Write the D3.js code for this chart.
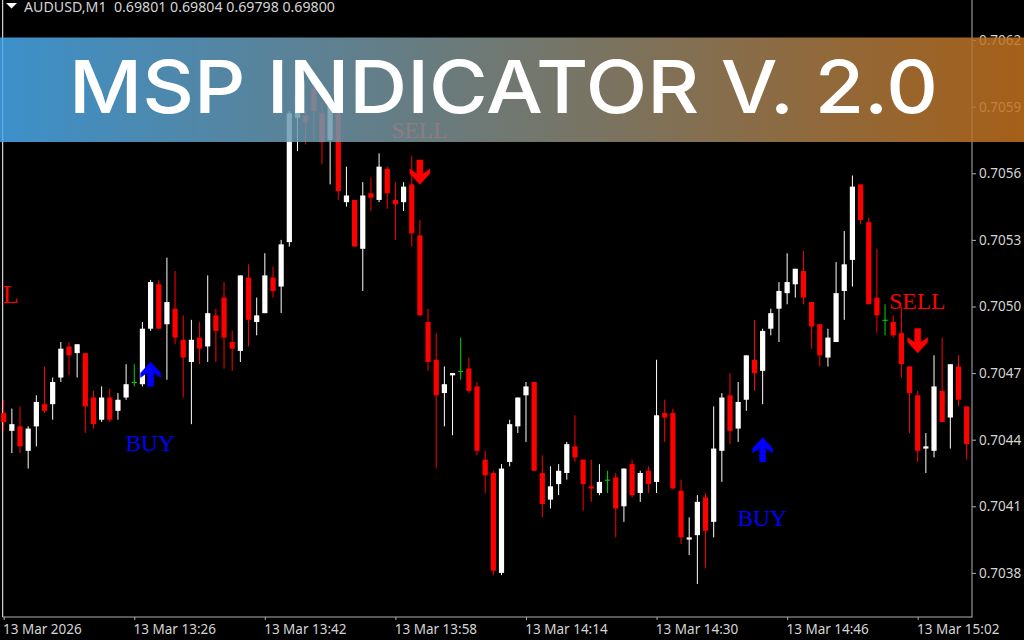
<!DOCTYPE html>
<html>
<head>
<meta charset="utf-8">
<title>MSP Indicator</title>
<script src="https://cdn.jsdelivr.net/npm/d3@7/dist/d3.min.js"></script>
<style>
html, body { margin: 0; padding: 0; background: #000; overflow: hidden; }
svg { display: block; }
.axis-label { font-family: "Noto Sans", sans-serif; font-size: 13.5px; fill: #d4d4d4; }
</style>
</head>
<body>
<svg class="chart" width="1024" height="640"></svg>
<script>
/*global d3*/

// prices are in points (1 point = 0.00001), one entry per M1 bar
var opens = [70452,70444,70446,70435,70446,70456,70456,70468,70482,70479,70479,70459,70449,70459,70453,70459,70466,70465,70490,70510,
    70492,70499,70485,70475,70486,70482,70496,70504,70484,70480,70513,70493,70497,70513,70509,70529,70585,70586,70598,70587,
    70575,70587,70547,70548,70526,70551,70548,70562,70548,70547,70555,70532,70493,70476,70461,70469,70471,70472,70464,70431,
    70425,70380,70430,70446,70460,70466,70425,70413,70420,70425,70437,70431,70419,70416,70422,70423,70410,70429,70416,70426,
    70421,70452,70452,70417,70395,70397,70414,70403,70435,70460,70445,70458,70476,70471,70490,70499,70506,70510,70516,70502,
    70492,70477,70484,70507,70521,70555,70538,70504,70494,70493,70488,70473,70460,70436,70435,70462,70450,70473,70455];
var highs = [70458,70454,70455,70446,70460,70473,70468,70484,70484,70483,70479,70462,70464,70463,70461,70474,70474,70493,70512,70512,
    70522,70516,70496,70494,70493,70514,70499,70511,70489,70514,70519,70504,70524,70518,70530,70588,70595,70588,70599,70592,
    70594,70589,70563,70548,70556,70558,70569,70563,70556,70556,70568,70539,70499,70488,70473,70470,70486,70477,70466,70435,
    70426,70429,70449,70459,70466,70466,70433,70428,70429,70439,70451,70431,70431,70429,70426,70425,70427,70431,70426,70428,
    70476,70458,70454,70422,70405,70415,70416,70455,70461,70470,70466,70478,70494,70490,70499,70511,70524,70517,70525,70502,
    70492,70490,70520,70534,70559,70555,70540,70526,70501,70496,70500,70473,70462,70443,70478,70486,70474,70478,70455];
var lows = [70444,70434,70434,70427,70437,70452,70449,70466,70469,70468,70443,70445,70448,70448,70449,70458,70464,70464,70489,70490,
    70467,70483,70459,70447,70474,70475,70475,70472,70471,70475,70482,70487,70497,70504,70497,70527,70570,70573,70575,70564,
    70555,70548,70545,70527,70507,70543,70547,70544,70530,70543,70527,70496,70471,70427,70446,70442,70467,70461,70433,70416,
    70379,70379,70428,70443,70439,70426,70405,70409,70415,70422,70430,70408,70412,70415,70416,70396,70403,70414,70412,70416,
    70416,70439,70418,70393,70388,70375,70382,70396,70421,70438,70439,70453,70462,70456,70487,70484,70501,70504,70501,70481,
    70473,70473,70484,70494,70509,70537,70501,70488,70487,70486,70468,70443,70430,70425,70432,70448,70436,70455,70431];
var closes = [70448,70447,70437,70445,70457,70453,70466,70481,70478,70483,70455,70447,70459,70449,70458,70465,70466,70490,70511,70490,
    70502,70486,70477,70485,70481,70497,70489,70486,70481,70514,70494,70496,70514,70507,70528,70587,70595,70583,70588,70574,
    70591,70552,70550,70527,70550,70549,70563,70551,70546,70554,70533,70496,70475,70460,70465,70470,70471,70462,70435,70424,
    70381,70427,70447,70459,70464,70426,70411,70419,70426,70438,70432,70420,70418,70421,70422,70409,70427,70415,70425,70420,
    70451,70450,70418,70396,70396,70412,70399,70436,70459,70444,70457,70478,70470,70489,70497,70507,70511,70517,70504,70491,
    70478,70486,70506,70519,70554,70539,70501,70496,70494,70487,70474,70461,70435,70437,70464,70448,70474,70458,70438];

// time labels, every 16 bars
var timeTicks = [0, 16, 32, 48, 64, 80, 96, 112];
var timeLabels = ["13 Mar 2026", "13 Mar 13:26", "13 Mar 13:42", "13 Mar 13:58", "13 Mar 14:14", "13 Mar 14:30", "13 Mar 14:46", "13 Mar 15:02"];
var priceTicks = [0.7038, 0.7041, 0.7044, 0.7047, 0.7050, 0.7053, 0.7056, 0.7059, 0.7062];

// indicator signals
var signalBars = [18, 51, 93, 112];
var signalTypes = ["BUY", "SELL", "BUY", "SELL"];
var arrowTips = [70475, 70555, 70441, 70479];
var labelPrices = [70435, 70576, 70401, 70499];

var header = "AUDUSD,M1  0.69801 0.69804 0.69798 0.69800";
var title = "MSP INDICATOR V. 2.0";

var svg = d3.select(".chart");
var plotRight = 972, plotBottom = 617;

var bars = d3.range(opens.length);
var xScale = d3.scaleLinear().domain([0, 112]).range([3.7, 917.7]);
var yScale = d3.scaleLinear().domain([0.7038, 0.7062]).range([572.9, 40.1]);

function px(points) { return yScale(points / 100000); }

function barColor(i) {
    if (closes[i] > opens[i]) { return "#ffffff"; }
    if (closes[i] < opens[i]) { return "#ff0000"; }
    return "#00d800";
}

var chart = svg.append("g");

// frame
chart.append("line").attr("x1", 2.7).attr("x2", 2.7).attr("y1", 0).attr("y2", plotBottom)
    .attr("stroke", "#ffffff");
chart.append("line").attr("x1", plotRight).attr("x2", plotRight).attr("y1", 0).attr("y2", plotBottom + 0.5)
    .attr("stroke", "#b0b0b0");
chart.append("line").attr("x1", 2.7).attr("x2", plotRight).attr("y1", plotBottom).attr("y2", plotBottom)
    .attr("stroke", "#b0b0b0");

// axes
var yAxis = d3.axisRight(yScale).tickValues(priceTicks).tickSize(4).tickSizeOuter(0).tickPadding(3)
    .tickFormat(d3.format(".4f"));
var yGroup = chart.append("g").attr("transform", "translate(" + plotRight + ",0)").call(yAxis);

var xAxis = d3.axisBottom(xScale).tickValues(timeTicks).tickSize(3).tickSizeOuter(0).tickPadding(4)
    .tickFormat(function (d, i) { return timeLabels[i]; });
var xGroup = chart.append("g").attr("transform", "translate(0," + plotBottom + ")").call(xAxis);

[yGroup, xGroup].forEach(function (g) {
    g.select(".domain").remove();
    g.selectAll(".tick line").attr("stroke", "#b0b0b0");
    g.selectAll(".tick text").attr("class", "axis-label").attr("fill", null);
    g.attr("font-family", null).attr("font-size", null);
});
xGroup.selectAll(".tick text").attr("text-anchor", "start").attr("dx", -1.2);

// candles
chart.append("g").selectAll("line")
    .data(bars)
    .enter()
    .append("line")
    .attr("x1", function (i) { return xScale(i); })
    .attr("x2", function (i) { return xScale(i); })
    .attr("y1", function (i) { return px(highs[i]); })
    .attr("y2", function (i) { return px(lows[i]); })
    .attr("stroke", barColor);

chart.append("g").selectAll("rect")
    .data(bars)
    .enter()
    .append("rect")
    .attr("x", function (i) { return xScale(i) - 2.6; })
    .attr("width", 5.2)
    .attr("y", function (i) { return px(Math.max(opens[i], closes[i])); })
    .attr("height", function (i) { return Math.max(1, Math.abs(px(opens[i]) - px(closes[i]))); })
    .attr("fill", barColor);

// signal arrows and labels
var arrowShape = "M0,0L10,11L10,15.5L3,10.5L3,24.5L-3,24.5L-3,10.5L-10,15.5L-10,11Z";
chart.append("g").selectAll("path")
    .data(signalBars)
    .enter()
    .append("path")
    .attr("d", arrowShape)
    .attr("fill", function (d, i) { return signalTypes[i] === "BUY" ? "#0000ff" : "#ff0000"; })
    .attr("stroke", function (d, i) { return signalTypes[i] === "BUY" ? "#0000ff" : "#ff0000"; })
    .attr("stroke-width", 0.5)
    .attr("transform", function (d, i) {
        var flip = signalTypes[i] === "BUY" ? 1 : -1;
        return "translate(" + xScale(d) + "," + px(arrowTips[i]) + ") scale(1," + flip + ")";
    });

chart.append("g").selectAll("text")
    .data(signalBars)
    .enter()
    .append("text")
    .attr("x", function (d) { return xScale(d) - 0.4; })
    .attr("y", function (d, i) { return px(labelPrices[i]); })
    .attr("text-anchor", "middle")
    .attr("font-family", "Liberation Serif")
    .attr("font-size", 23.5)
    .attr("fill", function (d, i) { return signalTypes[i] === "BUY" ? "#0000ff" : "#ff0000"; })
    .text(function (d, i) { return signalTypes[i]; });

// tail end of a SELL label running off the left edge
chart.append("text")
    .attr("x", xScale(0) - 1)
    .attr("y", px(70501.5))
    .attr("font-family", "Liberation Serif")
    .attr("font-size", 26)
    .attr("fill", "#ff0000")
    .text("L");

// header line
chart.append("path").attr("d", "M6,3L17,3L11.5,8.5Z").attr("fill", "#ffffff");
chart.append("text")
    .attr("x", 24)
    .attr("y", 11.5)
    .attr("class", "axis-label")
    .style("font-size", "14.2px")
    .style("white-space", "pre")
    .text(header);

// banner
var gradient = svg.append("defs").append("linearGradient").attr("id", "bannerFill");
gradient.append("stop").attr("offset", "0%").attr("stop-color", "#47aaee");
gradient.append("stop").attr("offset", "100%").attr("stop-color", "#c2701c");

svg.append("rect")
    .attr("x", 0).attr("y", 37.5).attr("width", 1024).attr("height", 104.5)
    .attr("fill", "url(#bannerFill)")
    .attr("opacity", 0.85);

svg.append("text")
    .attr("x", 69)
    .attr("y", 113)
    .attr("textLength", 869)
    .attr("lengthAdjust", "spacingAndGlyphs")
    .attr("font-family", "Inter")
    .attr("font-weight", 550)
    .attr("font-size", 73)
    .attr("fill", "#ffffff")
    .text(title);
</script>
</body>
</html>
